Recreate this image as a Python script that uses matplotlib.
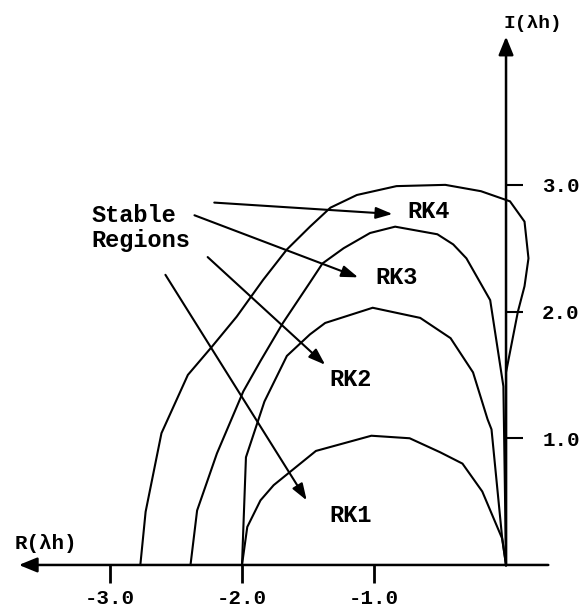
import matplotlib
matplotlib.use("Agg")
import matplotlib.pyplot as plt

plt.rcParams['font.family'] = ['Liberation Mono', 'DejaVu Sans Mono']

# stability boundaries (Re(lambda h), Im(lambda h))
rk1_re = [-2.0, -1.96, -1.86, -1.76, -1.44, -1.02, -0.73, -0.50, -0.33, -0.18, -0.03, 0.0]
rk1_im = [0.0, 0.30, 0.51, 0.63, 0.90, 1.02, 1.00, 0.89, 0.80, 0.58, 0.21, 0.0]

rk2_re = [-2.0, -1.97, -1.83, -1.66, -1.485, -1.37, -1.01, -0.65, -0.42, -0.25, -0.14, -0.11, -0.03, 0.0]
rk2_im = [0.0, 0.85, 1.29, 1.65, 1.82, 1.91, 2.03, 1.95, 1.79, 1.52, 1.15, 1.07, 0.22, 0.0]

rk3_re = [-2.39, -2.34, -2.19, -1.99, -1.86, -1.69, -1.485, -1.39, -1.23, -1.03, -0.84,
          -0.52, -0.40, -0.30, -0.12, -0.02, 0.0]
rk3_im = [0.0, 0.43, 0.88, 1.37, 1.61, 1.91, 2.23, 2.38, 2.50, 2.62, 2.67,
          2.61, 2.53, 2.42, 2.09, 1.41, 0.0]

rk4_re = [-2.77, -2.73, -2.61, -2.41, -2.23, -2.04, -1.84, -1.66, -1.485, -1.33, -1.13,
          -0.83, -0.46, -0.19, 0.03, 0.14, 0.17, 0.14, 0.09, 0.0, 0.0]
rk4_im = [0.0, 0.42, 1.04, 1.50, 1.72, 1.96, 2.25, 2.49, 2.67, 2.82, 2.92,
          2.99, 3.00, 2.95, 2.87, 2.71, 2.42, 2.20, 2.00, 1.52, 0.0]

curves = [(rk1_re, rk1_im), (rk2_re, rk2_im), (rk3_re, rk3_im), (rk4_re, rk4_im)]

# region names and where they sit
region_names = ['RK1', 'RK2', 'RK3', 'RK4']
name_pos = [(-1.34, 0.39), (-1.34, 1.46), (-0.99, 2.27), (-0.75, 2.79)]

# "Stable Regions" pointers: (start, tip)
pointers = [
    ((-2.21, 2.86), (-0.86, 2.77)),
    ((-2.36, 2.76), (-1.12, 2.27)),
    ((-2.26, 2.43), (-1.37, 1.58)),
    ((-2.58, 2.29), (-1.51, 0.51)),
]

x_ticks = [-3.0, -2.0, -1.0]
y_ticks = [1.0, 2.0, 3.0]

fig = plt.figure(figsize=(5.83, 6.14), dpi=100)
ax = fig.add_axes([0, 0, 1, 1])
ax.set_xlim(-3.833, 0.583)
ax.set_ylim(-0.387, 4.459)

for re, im in curves:
    ax.plot(re, im, color='black', lw=1.5, solid_joinstyle='miter')

# axes with arrow heads
ax.annotate('', xy=(-3.69, 0), xytext=(0.32, 0),
            arrowprops=dict(arrowstyle='-|>,head_length=1.1,head_width=0.45',
                            color='black', lw=1.8, shrinkA=0, shrinkB=0))
ax.annotate('', xy=(0, 4.17), xytext=(0, -0.005),
            arrowprops=dict(arrowstyle='-|>,head_length=1.1,head_width=0.45',
                            color='black', lw=1.8, shrinkA=0, shrinkB=0))

# ticks on axes through origin
for side in ['top', 'left']:
    ax.spines[side].set_visible(False)
ax.spines['bottom'].set_position(('data', 0))
ax.spines['right'].set_position(('data', 0))
ax.spines['bottom'].set_visible(False)
ax.spines['right'].set_visible(False)
ax.xaxis.set_ticks_position('bottom')
ax.yaxis.set_ticks_position('right')
ax.set_xticks(x_ticks)
ax.set_xticklabels([f'{v:.1f}' for v in x_ticks])
ax.set_yticks(y_ticks)
ax.set_yticklabels([f'{v:.1f}' for v in y_ticks])
ax.tick_params(axis='x', direction='out', length=13, width=2.0, pad=4,
               labelsize=15)
ax.tick_params(axis='y', direction='out', length=12, width=1.5, pad=14,
               labelsize=15)
for lab in ax.get_xticklabels() + ax.get_yticklabels():
    lab.set_fontweight('bold')

ax.text(-3.72, 0.17, 'R(\u03bbh)', fontsize=15, fontweight='bold',
        ha='left', va='center')
ax.text(-0.02, 4.27, 'I(\u03bbh)', fontsize=14, fontweight='bold',
        ha='left', va='center')

ax.text(-3.14, 2.66, 'Stable\nRegions', fontsize=17, fontweight='bold',
        ha='left', va='center', linespacing=1.1)

for name, (x, y) in zip(region_names, name_pos):
    ax.text(x, y, name, fontsize=17, fontweight='bold', ha='left', va='center')

for start, tip in pointers:
    ax.annotate('', xy=tip, xytext=start,
                arrowprops=dict(arrowstyle='-|>,head_length=1.0,head_width=0.35',
                                color='black', lw=1.5, shrinkA=0, shrinkB=0))

fig.savefig('out.png', dpi=100)
